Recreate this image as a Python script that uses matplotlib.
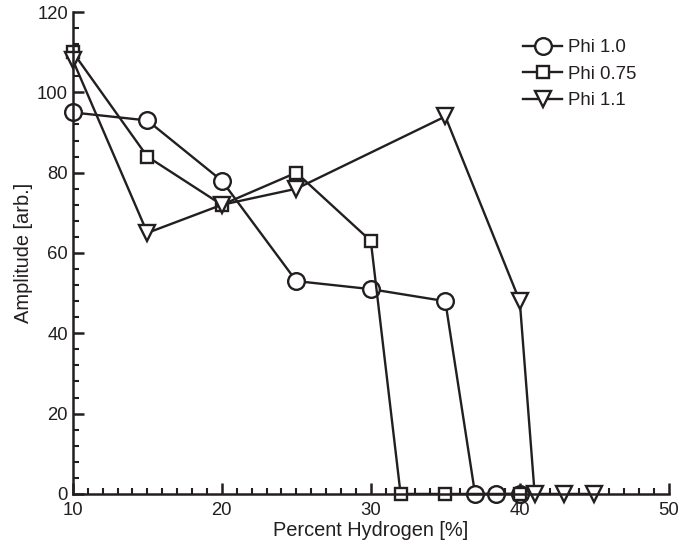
import matplotlib
matplotlib.use('Agg')
import matplotlib.pyplot as plt
from matplotlib.ticker import MultipleLocator

plt.rcParams['font.family'] = ['Liberation Sans', 'DejaVu Sans']

# percent hydrogen / amplitude for each equivalence ratio
h2_phi10 = [10, 15, 20, 25, 30, 35, 37, 38.4, 40]
amp_phi10 = [95, 93, 78, 53, 51, 48, 0, 0, 0]

h2_phi075 = [10, 15, 20, 25, 30, 32, 35, 40]
amp_phi075 = [110, 84, 72, 80, 63, 0, 0, 0]

h2_phi11 = [10, 15, 20, 25, 35, 40, 41, 43, 45]
amp_phi11 = [108, 65, 72, 76, 94, 48, 0, 0, 0]

fig = plt.figure(figsize=(6.81, 5.47), dpi=100)
ax = fig.add_axes([0.107, 0.097, 0.875, 0.881])

ink = '#231f20'
style = dict(color=ink, lw=1.7, mfc='white', mew=1.7, clip_on=False, zorder=2)
ax.plot(h2_phi10, amp_phi10, marker='o', ms=12, label='Phi 1.0', **style)
ax.plot(h2_phi075, amp_phi075, marker='s', ms=8.5, label='Phi 0.75', **style)
ax.plot(h2_phi11, amp_phi11, marker='v', ms=11, label='Phi 1.1', **style)

ax.set_xlim(10, 50)
ax.set_ylim(0, 120)
ax.xaxis.set_major_locator(MultipleLocator(10))
ax.xaxis.set_minor_locator(MultipleLocator(1))
ax.yaxis.set_major_locator(MultipleLocator(20))
ax.yaxis.set_minor_locator(MultipleLocator(4))

for s in ['top', 'right']:
    ax.spines[s].set_visible(False)
for s in ['left', 'bottom']:
    ax.spines[s].set_linewidth(1.8)
    ax.spines[s].set_color(ink)

ax.tick_params(which='major', direction='in', length=8, width=1.8, labelsize=13.3,
               colors=ink, labelcolor=ink)
ax.tick_params(which='minor', direction='in', length=4.5, width=1.5, colors=ink)
ax.tick_params(axis='x', pad=5.5)
ax.tick_params(axis='y', pad=3.5)

ax.set_xlabel('Percent Hydrogen [%]', fontsize=14.4, color=ink, labelpad=2)
ax.set_ylabel('Amplitude [arb.]', fontsize=14.4, color=ink, labelpad=3)

leg = ax.legend(loc='upper left', bbox_to_anchor=(0.728, 0.978), frameon=False,
                fontsize=13.4, handlelength=2.1, handletextpad=0.3, labelspacing=0.5)
for t in leg.get_texts():
    t.set_color(ink)

fig.savefig('out.png', dpi=100)
